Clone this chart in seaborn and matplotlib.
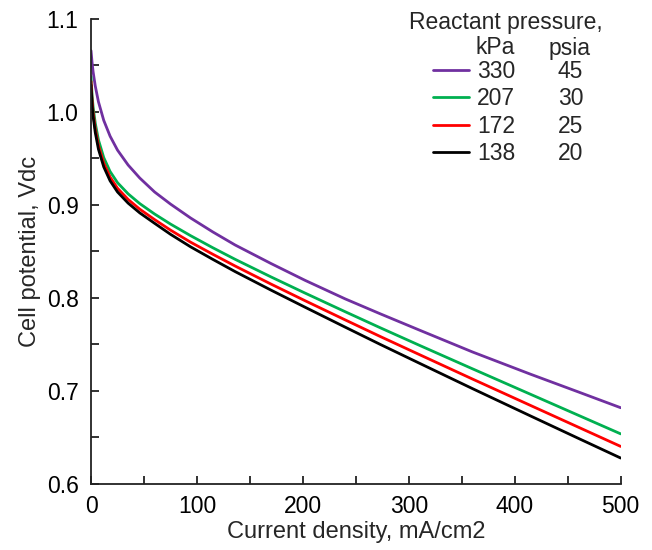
import pandas as pd
import seaborn as sns
import matplotlib.pyplot as plt
from matplotlib.ticker import MultipleLocator

current = [0, 1, 2, 4, 7, 12, 18, 25, 35, 46, 60, 75, 94, 115, 136, 170, 202, 240, 273, 311, 360, 415, 460, 500]

v_330 = [1.066, 1.053, 1.043, 1.028, 1.011, 0.991, 0.974, 0.959, 0.943, 0.929, 0.914, 0.901, 0.886, 0.871,
         0.857, 0.837, 0.819, 0.799, 0.783, 0.765, 0.742, 0.718, 0.699, 0.682]
v_207 = [1.038, 1.018, 1.005, 0.988, 0.970, 0.951, 0.936, 0.924, 0.912, 0.9015, 0.8903, 0.8795, 0.867, 0.854,
         0.8416, 0.8226, 0.8053, 0.7852, 0.768, 0.7486, 0.7239, 0.6964, 0.6739, 0.6539]
v_172 = [1.033, 1.012, 0.999, 0.982, 0.964, 0.945, 0.930, 0.918, 0.906, 0.8955, 0.8843, 0.873, 0.860, 0.847,
         0.8344, 0.8149, 0.7971, 0.7764, 0.7586, 0.7386, 0.7129, 0.6844, 0.6611, 0.6404]
v_138 = [1.029, 1.008, 0.995, 0.978, 0.960, 0.941, 0.926, 0.914, 0.902, 0.8915, 0.8803, 0.8685, 0.855, 0.8415,
         0.8284, 0.8084, 0.7901, 0.7686, 0.7501, 0.7293, 0.7026, 0.6731, 0.6491, 0.6279]

kpa = ["330", "207", "172", "138"]
psia = ["45", "30", "25", "20"]
colors = ["#7030A0", "#00B050", "#FF0000", "#000000"]

frames = []
for k, v in zip(kpa, [v_330, v_207, v_172, v_138]):
    frames.append(pd.DataFrame({"current": current, "voltage": v, "kPa": k}))
df = pd.concat(frames, ignore_index=True)

sns.set_style("ticks")
plt.rcParams["font.family"] = ["Liberation Sans", "DejaVu Sans"]

fig = plt.figure(figsize=(6.52, 5.5), dpi=100)
ax = fig.add_axes([0.1396, 0.12, 0.8124, 0.8455])

sns.lineplot(data=df, x="current", y="voltage", hue="kPa", hue_order=kpa,
             palette=colors, linewidth=2.0, ax=ax, legend=False)

ax.set_xlim(0, 500)
ax.set_ylim(0.6, 1.1)
ax.xaxis.set_major_locator(MultipleLocator(100))
ax.xaxis.set_minor_locator(MultipleLocator(50))
ax.yaxis.set_minor_locator(MultipleLocator(0.05))
ax.set_yticks([0.6, 0.7, 0.8, 0.9, 1.0, 1.1])
ax.set_yticklabels(["0.6", "0.7", "0.8", "0.9", "1.0", "1.1"])
ax.tick_params(which="both", direction="in", length=6, width=1.3, labelsize=16.5, colors="#222222",
               labelcolor="black")
ax.tick_params(axis="x", pad=8)
ax.tick_params(axis="y", pad=9)
for s in ["left", "bottom"]:
    ax.spines[s].set_linewidth(1.3)
    ax.spines[s].set_color("#222222")
sns.despine(ax=ax)

ax.set_xlabel("Current density, mA/cm2", fontsize=17, labelpad=2)
ax.set_ylabel("Cell potential, Vdc", fontsize=17, labelpad=4)

# legend: line handles + kPa, psia column placed alongside each row
handles = [plt.Line2D([], [], color=c, linewidth=2.0) for c in colors]
leg = fig.legend(handles, kpa, loc="upper left", bbox_to_anchor=(433 / 652, 1 - 60 / 550),
                 bbox_transform=fig.transFigure, frameon=False, fontsize=16.5,
                 handlelength=1.57, handletextpad=0.35, labelspacing=0.19,
                 borderpad=0, borderaxespad=0)
fig.text(409 / 652, 1 - 23 / 550, "Reactant pressure,", ha="left", va="center", fontsize=16.5)
fig.text(495 / 652, 1 - 48 / 550, "kPa", ha="center", va="center", fontsize=16.5)
fig.text(570 / 652, 1 - 48 / 550, "psia", ha="center", va="center", fontsize=16.5)

fig.canvas.draw()
inv = fig.transFigure.inverted()
for t, p in zip(leg.get_texts(), psia):
    bb = t.get_window_extent()
    yc = inv.transform((0, (bb.y0 + bb.y1) / 2))[1]
    fig.text(570.5 / 652, yc, p, ha="center", va="center", fontsize=16.5)

plt.savefig("out.png", dpi=100)
